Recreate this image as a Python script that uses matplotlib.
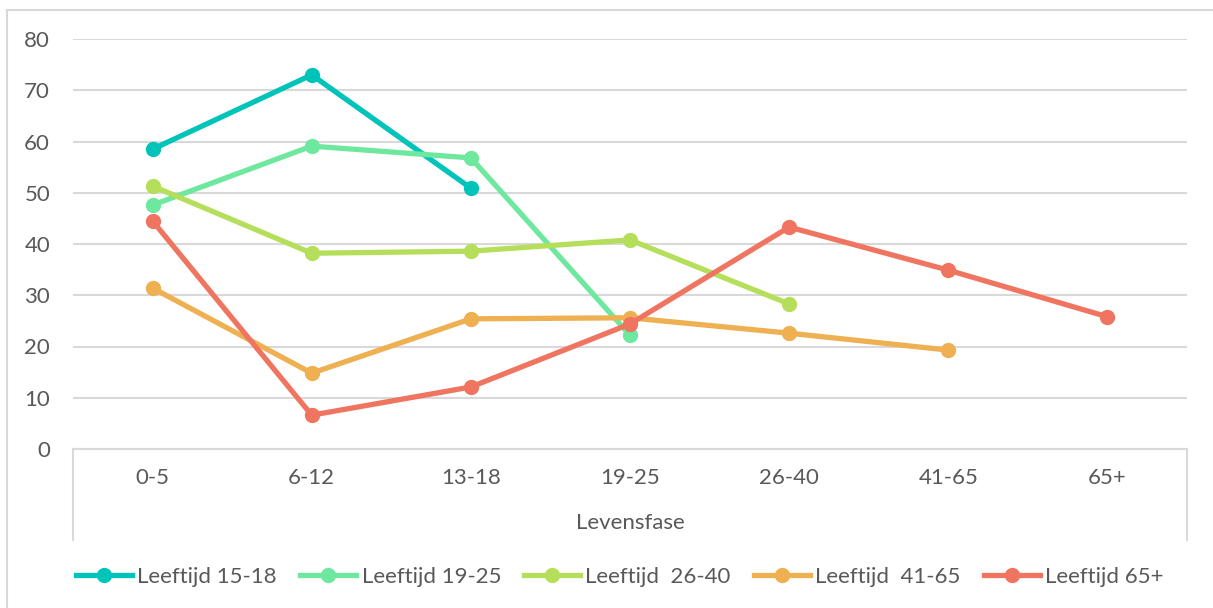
import matplotlib
matplotlib.use("Agg")
import matplotlib.pyplot as plt
from matplotlib.lines import Line2D
from matplotlib.patches import Rectangle

categories = ["0-5", "6-12", "13-18", "19-25", "26-40", "41-65", "65+"]
series_names = ["Leeftijd 15-18", "Leeftijd 19-25", "Leeftijd  26-40", "Leeftijd  41-65", "Leeftijd 65+"]
leeftijd_15_18 = [58.5, 73.0, 50.9]
leeftijd_19_25 = [47.6, 59.1, 56.8, 22.2]
leeftijd_26_40 = [51.3, 38.2, 38.6, 40.8, 28.3]
leeftijd_41_65 = [31.4, 14.8, 25.4, 25.6, 22.6, 19.3]
leeftijd_65plus = [44.5, 6.6, 12.1, 24.4, 43.3, 34.9, 25.8]
y_ticks = [0, 10, 20, 30, 40, 50, 60, 70, 80]

colors = ["#00C4BA", "#6EE89E", "#B5DF5A", "#EEB050", "#EF7560"]
all_series = [leeftijd_15_18, leeftijd_19_25, leeftijd_26_40, leeftijd_41_65, leeftijd_65plus]

plt.rcParams['font.family'] = ['Lato', 'DejaVu Sans']
txt = "#595959"
grid = "#D9D9D9"
fs = 16

fig = plt.figure(figsize=(12.13, 6.08), dpi=100)
fig.patches.append(Rectangle((7/1213, -0.1), 1.2, 1 - 10/608 + 0.1, transform=fig.transFigure,
                             fill=False, edgecolor=grid, linewidth=1.5, zorder=0))
ax = fig.add_axes([73/1213, 1 - 449/608, 1114/1213, 410/608])

x = list(range(len(categories)))
handles = []
for vals, c, name in zip(all_series, colors, series_names):
    ax.plot(x[:len(vals)], vals, color=c, linewidth=3.8, marker='o', markersize=10,
            solid_capstyle='round', zorder=3, clip_on=False)
    handles.append(Line2D([0], [0], color=c, linewidth=3.8, marker='o', markersize=10, label=name))

ax.set_xlim(-0.5, len(categories) - 0.5)
ax.set_ylim(0, 80)
ax.set_yticks(y_ticks)
ax.set_xticks(x)
ax.set_xticklabels(categories)
ax.yaxis.grid(True, color=grid, linewidth=1.5)
ax.set_axisbelow(True)
for s in ['top', 'right', 'left']:
    ax.spines[s].set_visible(False)
ax.spines['bottom'].set_color(grid)
ax.spines['bottom'].set_linewidth(1.5)
ax.tick_params(axis='both', length=0, labelsize=fs, labelcolor=txt)
ax.tick_params(axis='y', pad=16.5)
ax.tick_params(axis='x', pad=14)

# category axis box side lines
for xv in [-0.5, len(categories) - 0.5]:
    ax.plot([xv, xv], [0, -(540 - 449) / 5.125], color=grid, linewidth=1.5, clip_on=False, zorder=1)

ax.set_xlabel("Levensfase", fontsize=fs, color=txt, labelpad=18)

fig.legend(handles=handles, loc='center', bbox_to_anchor=(620/1213, 1 - 577/608), ncol=5,
           frameon=False, fontsize=fs, labelcolor=txt, handlelength=2.5, handletextpad=0.25,
           columnspacing=1.05)

fig.savefig("out.png", dpi=100)
